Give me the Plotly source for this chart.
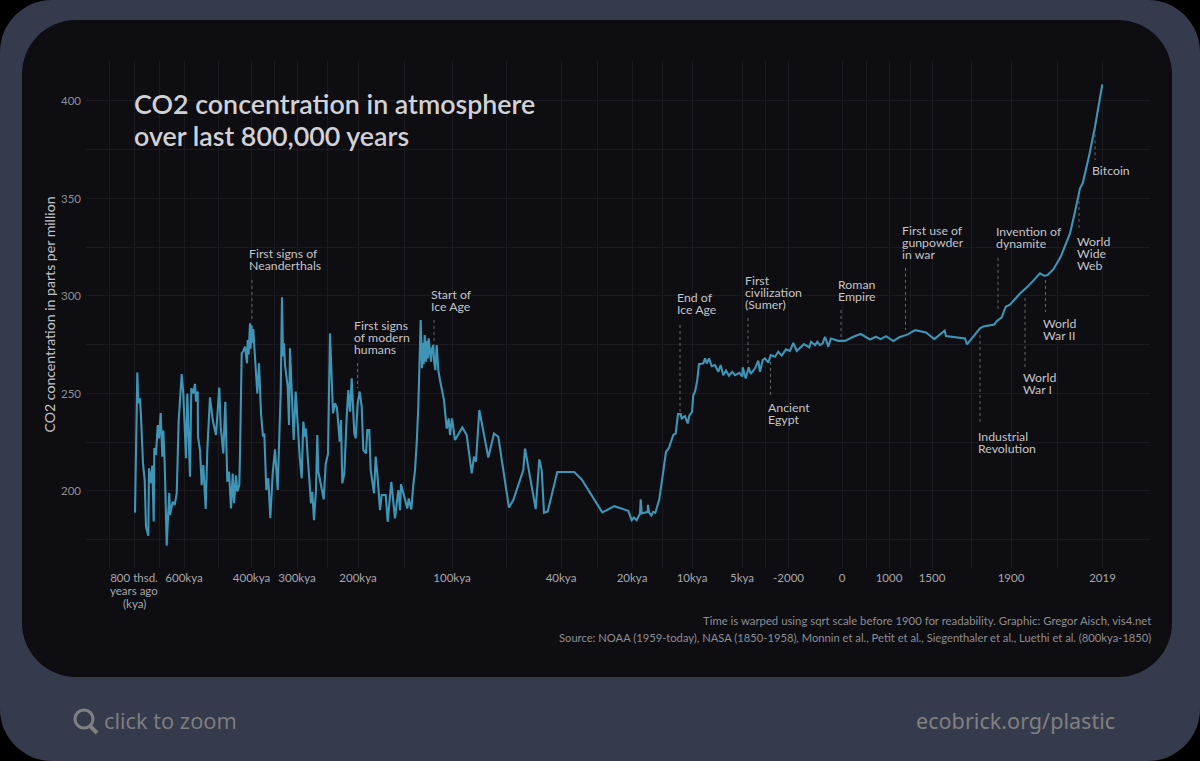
import plotly.graph_objects as go

# Time axis is warped, so positions are given in warped-time units
time_warped = [
135,137.3,138.3,140,141,142,142.7,143,144.7,146,148.3,149,150.7,152.3,153.7,154.3,156,157.7,159,160.7,162.3,163.3,164.7,166.7,167.7,169.3,170,172.7,174.7,176.7,178.7,181.7,183.3,186,187.3,190,191.3,193.3,195,196,197.7,198,200,201.7,203.3,205.7,207.3,210,212.7,216,219.3,220.7,223.3,225.3,227.3,229,231,232.7,234,236,237.3,239.3,
240,241.7,243,245,247,247.7,248.7,250,250.7,251.5,252.3,253.3,254.3,255.7,257.3,259,261,263,264.3,266.3,268.3,270.3,272.7,275,277.7,279.7,280.7,282,283,284,285,287.7,289,290,291.7,293.7,295.7,297,299.7,301.7,303.3,305,306,307.7,311,312.3,314,316,317.3,318.3,320.3,323.7,325.7,328,330,331.7,333,335,337,339.7,341,342.3,344.3,346.7,348.3,350,351.7,354.3,355.7,357.7,359.7,361.7,363.3,
366,367.3,369.3,370.7,374,375.7,377.3,380,381.7,385.7,387.7,391.3,395,398.3,400,401,404.3,407.3,408.7,411.3,413.3,415,416.7,418.3,420.7,421.5,422,423,423.7,424.7,426,427,427.8,428.7,429.8,431,432,433.3,434.2,435.3,436.7,437.4,438.3,440,444,446.7,448.7,450,452,455,462.3,466.7,471.7,474,476,479.3,
488.3,494,498.3,509,513.3,523.3,525,535.7,539.3,541.7,544,547.7,557.3,574.3,581.7,602.3,614.3,628.3,631.7,634,636.7,640,640.7,641.7,647.7,648,649,651.3,653.3,655.3,659.3,662.7,666,668.7,673.3,675.7,678,680.7,681.7,685,687.7,689.3,692,693.3,695,697.3,699,703.3,705,706.7,709,711.7,715,718.3,720.7,723.3,726,729,732.3,735,739.3,742.3,742.7,745.7,748.7,750.7,755,758.3,760,762.7,765,768.3,770.7,775,778.3,781.7,786,790,793.3,796.7,804,809.3,811,815,817.3,820,822.7,825,828.3,831,838.3,845,
853.3,860.7,870,876,880.7,886,893.3,899.3,907.7,915.3,926,934.3,944.7,946,965,967,980,983.3,994.3,996.7,1001.7,1005.7,1010,1020,1027.7,1040,1044,1047.3,1053.3,1060.7,1065,1070,1075,1080,1082.7,1089.3,1095,1102.3]
co2_ppm = [
188.9,260.7,245,247.5,238,226,226,214,205.6,181.7,177,211.6,204,213,184.3,222,218.5,233.8,227,240,217.6,231,214,172,183.4,199,187.7,194.5,192.8,198.8,236.4,260,250,216.8,250,207.3,252.7,250,254.9,245.8,251,227.9,221,203,213.3,190.8,221,248,236.4,228.7,253,233,219.3,245.8,204.8,210,191,209,193.7,208,199.7,203,
219,270.6,271.5,274,265.5,277.4,270,286,273,285,276,283,274,260.4,250,265.5,239.8,227.9,229.6,200.5,206.5,186,209,221.4,200.5,234.7,250,299.3,269,275.7,264.6,253.5,233.8,273.2,251.8,226.2,251,238,217.6,206.5,235.6,227.9,232,217.6,193.7,199.6,185,200.5,228.7,210,204,195.7,214,219,280.9,251.8,239.8,245,242.4,225.3,236.4,204,209,238,251.8,240.7,257.8,229.6,227,245,251,243.3,221,
219.3,231.2,231.2,210.7,198.8,217.6,209,190.2,197.9,197.9,184.2,204.7,185.9,200.5,190.2,203.5,197,191,196.2,190.5,203,210.7,224.4,243.2,287.7,270,262.9,276,265,280,266.3,277,268,278.3,270,266.3,273,274.8,266,262,274.8,265,262,256.9,246.6,232,237.2,228.7,237.2,226.1,232.6,228.7,209,217.6,215,241.5,
217.2,229.5,227.8,191.5,195.3,210.7,221.8,190.7,216.2,210.7,188.8,189.5,209.7,209.7,205.9,189,192.2,189.8,185,186.4,185,188.5,195.7,188.5,189.3,192.9,189,187.4,189.3,188.8,195.7,208,220.1,221.8,228.7,229.5,239.4,239.4,237.2,238.4,234.6,238.6,240.6,249.2,250.9,256.9,265,265.4,268,265.4,268,264,264.6,261.1,264.6,259.4,261.7,259.1,261.1,259.4,260.6,258.6,263.4,257.7,263.4,260,262.9,266.8,261.1,267.1,268,265.8,269.7,268.8,271.4,269.4,272.6,271.8,276,271.8,275.3,273.6,276.5,274.8,276.5,274.8,275.7,279.1,274,278.2,277,277,
279.1,280.5,277.7,279.1,277.9,279.4,276.9,278.8,280.3,282.5,281.3,277.9,282.2,279.4,278.2,275.2,283.4,284.4,285.4,287.1,289,294.5,295.5,301.3,304.8,311.6,310.4,310.6,313.6,320.1,326.1,332.1,343.2,355.2,357.8,372.3,386.8,408.5]

grid_x = [109,134,159,184,218,251.5,274,297,327,358,404,452,506,561,597,632,662,692,742,765,788.5,842,866,889,910,932,971,1011,1057,1102.5]
tick_x = {134:"800 thsd.",184:"600kya",251.5:"400kya",297:"300kya",358:"200kya",452:"100kya",561:"40kya",632:"20kya",692:"10kya",742:"5kya",788.5:"-2000",842:"0",889:"1000",932:"1500",1011:"1900",1102.5:"2019"}
grid_y = [175,200,225,250,275,300,325,350,375,400]
tick_y = [200,250,300,350,400]

event_text = [["First signs of","Neanderthals"],["Start of","Ice Age"],["First signs","of modern","humans"],["End of","Ice Age"],
              ["First","civilization","(Sumer)"],["Ancient","Egypt"],["Roman","Empire"],["First use of","gunpowder","in war"],
              ["Invention of","dynamite"],["Industrial","Revolution"],["World","War I"],["World","War II"],["World","Wide","Web"],["Bitcoin"]]
event_x =      [252,434,357.5,680,748,770.5,841,905.5,998,980,1025,1045.5,1079,1095]
event_text_x = [247,429,352,675,743,765.5,836,900,994,975.5,1020.5,1040.5,1075,1090]
event_text_y = [321.8,300.8,284.9,299.3,308,242.9,305.9,333.6,333.1,228,258.3,285.9,328,364.3]
leader_from =  [308.2,287.7,265.6,285.1,288.7,266.2,292.8,314.4,319.5,280,299,308.2,351.8,386]
leader_to =    [286.7,274.9,252.8,240.5,264.6,249.2,278.5,282.6,291.8,234,263.6,291.8,333.8,369.7]

W, H = 1200, 761
fx = lambda p: p / W
fy = lambda p: 1 - p / H

def rounded(x0, y0, x1, y1, r):
    k = r * 0.45
    P = lambda x, y: f"{fx(x):.5f},{fy(y):.5f}"
    return (f"M{P(x0+r,y0)} L{P(x1-r,y0)} C{P(x1-k,y0)} {P(x1,y0+k)} {P(x1,y0+r)} "
            f"L{P(x1,y1-r)} C{P(x1,y1-k)} {P(x1-k,y1)} {P(x1-r,y1)} "
            f"L{P(x0+r,y1)} C{P(x0+k,y1)} {P(x0,y1-k)} {P(x0,y1-r)} "
            f"L{P(x0,y0+r)} C{P(x0,y0+k)} {P(x0+k,y0)} {P(x0+r,y0)} Z")

shapes = [
    dict(type="path", xref="paper", yref="paper", path=rounded(0,0,1200,761,52), fillcolor="#363a4d", line_width=0, layer="below"),
    dict(type="path", xref="paper", yref="paper", path=rounded(22,20,1172,677,54), fillcolor="#0d0d12", line_width=0, layer="below"),
    dict(type="circle", xref="paper", yref="paper", x0=fx(75), x1=fx(93), y0=fy(710), y1=fy(728), line=dict(color="#808080", width=3), layer="above"),
    dict(type="line", xref="paper", yref="paper", x0=fx(90), x1=fx(97), y0=fy(726), y1=fy(733), line=dict(color="#808080", width=4), layer="above"),
]
for x, a, b in zip(event_x, leader_from, leader_to):
    shapes.append(dict(type="line", xref="x", yref="y", x0=x, x1=x, y0=a, y1=b,
                       line=dict(color="#66676c", width=1, dash="3px,3px"), layer="above"))

annotations = []
for lines, x, y in zip(event_text, event_text_x, event_text_y):
    for i, line in enumerate(lines):
        annotations.append(dict(x=x, y=y, xref="x", yref="y", text=line, showarrow=False, xanchor="left", yanchor="middle",
                                yshift=-12*i, font=dict(family="Lato", size=12.3, color="#c4c4c8")))

def page_text(x, y, text, size, color, anchor="left", family="Lato", weight=None):
    f = dict(family=family, size=size, color=color)
    if weight:
        f["weight"] = weight
    annotations.append(dict(x=fx(x), y=fy(y), xref="paper", yref="paper", text=text, showarrow=False,
                            xanchor=anchor, yanchor="middle", font=f))

page_text(132, 104, "CO2 concentration in atmosphere", 26.8, "#d2d2d6", weight=600)
page_text(132, 136, "over last 800,000 years", 26.8, "#d2d2d6", weight=600)
page_text(1153, 620.5, "Time is warped using sqrt scale before 1900 for readability. Graphic: Gregor Aisch, vis4.net", 11.35, "#8e8e92", "right")
page_text(1153, 637.5, "Source: NOAA (1959-today), NASA (1850-1958), Monnin et al., Petit et al., Siegenthaler et al., Luethi et al. (800kya-1850)", 11.2, "#8e8e92", "right")
page_text(134, 590.5, "years ago", 11.5, "#a8a8ac", "center")
page_text(134, 603, "(kya)", 11.5, "#a8a8ac", "center")
page_text(102, 720, "click to zoom", 21.9, "#808080", family="Open Sans")
page_text(1117, 720.5, "ecobrick.org/plastic", 21.6, "#808080", "right", family="Noto Sans")

fig = go.Figure(go.Scatter(x=time_warped, y=co2_ppm, mode="lines", line=dict(color="#3f95b6", width=2.1),
                           hoverinfo="skip"))
fig.update_layout(
    width=W, height=H, margin=dict(l=0, r=0, t=0, b=0), autosize=False, showlegend=False,
    paper_bgcolor="#000000", plot_bgcolor="rgba(0,0,0,0)", shapes=shapes, annotations=annotations,
    xaxis=dict(domain=[fx(86), fx(1150)], range=[86, 1150], tickmode="array", tickvals=grid_x,
               ticktext=[tick_x.get(v, "") for v in grid_x], showgrid=True, gridcolor="#1a1a20", gridwidth=1,
               zeroline=False, showline=False, ticks="", tickangle=0, ticklabelstandoff=1,
               tickfont=dict(family="Lato", size=11.5, color="#a8a8ac")),
    yaxis=dict(domain=[fy(568), fy(61)], range=[160.5, 420.5], tickmode="array", tickvals=grid_y,
               ticktext=[str(v) if v in tick_y else "" for v in grid_y], showgrid=True, gridcolor="#1a1a20", gridwidth=1,
               zeroline=False, showline=False, ticks="", ticklabelstandoff=4, tickfont=dict(family="Lato", size=11.5, color="#8e8e92"),
               title=dict(text="CO2 concentration in parts per million", standoff=2,
                          font=dict(family="Lato", size=14.1, color="#c4c4c8"))),
)
fig.write_html("out.html", config=dict(displayModeBar=False), post_script="document.body.style.margin='0';")
